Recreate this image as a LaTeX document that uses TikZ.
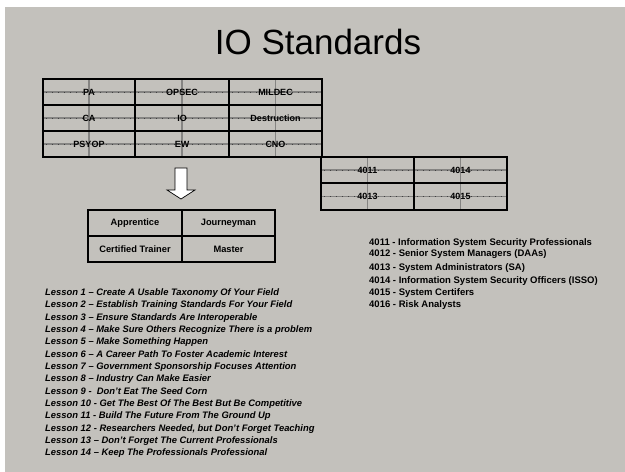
\documentclass[tikz,border=0pt]{standalone}
\usepackage{fontspec}
\setmainfont{Liberation Sans}
\definecolor{bg}{HTML}{C3C1BC}
\definecolor{gl}{HTML}{858482}
\tikzset{
  cell/.style={draw=black, line width=1.5pt, inner sep=0pt, font=\bfseries\fontsize{9}{10}\selectfont},
  cellb/.style={draw=black, line width=1.5pt, inner sep=0pt, font=\bfseries\fontsize{9.3}{10}\selectfont},
  lesson/.style={anchor=west, inner sep=0pt, font=\bfseries\itshape\fontsize{9.4}{10}\selectfont},
  code/.style={anchor=west, inner sep=0pt, font=\bfseries\fontsize{9.5}{10}\selectfont},
}
\newcommand{\gcell}[7]{% name, x1,y1,x2,y2, text, style
  \draw[gl, line width=1.1pt] (#2,{(#3+#5)/2}) -- (#4,{(#3+#5)/2});
  \draw[black!75, line width=1pt, dash pattern=on 1pt off 5pt] (#2+3,{(#3+#5)/2}) -- (#4,{(#3+#5)/2});
  \draw[gl, line width=1.1pt] ({(#2+#4)/2},#3) -- ({(#2+#4)/2},#5);
  \node[#7, minimum width={#4-#2}, minimum height={#5-#3}] (#1) at ({(#2+#4)/2},{(#3+#5)/2}) {#6};
}
\begin{document}
\begin{tikzpicture}[x=1pt,y=-1pt]
\useasboundingbox (0,0) rectangle (625,472);
\fill[white] (0,0) rectangle (625,472);
\fill[bg] (5,7) rectangle (625,472);
\node[font=\fontsize{35}{40}\selectfont, inner sep=0pt] (title) at (318,42) {IO Standards};
% table 1
\gcell{pa}{43}{79}{135}{105}{PA}{cell}
\gcell{opsec}{135}{79}{229}{105}{OPSEC}{cell}
\gcell{mildec}{229}{79}{322}{105}{MILDEC}{cell}
\gcell{ca}{43}{105}{135}{131}{CA}{cell}
\gcell{io}{135}{105}{229}{131}{IO}{cell}
\gcell{destr}{229}{105}{322}{131}{Destruction}{cell}
\gcell{psyop}{43}{131}{135}{157}{PSYOP}{cell}
\gcell{ew}{135}{131}{229}{157}{EW}{cell}
\gcell{cno}{229}{131}{322}{157}{CNO}{cell}
% table 2
\gcell{c4011}{321}{157}{414}{183}{4011}{cell}
\gcell{c4014}{414}{157}{507}{183}{4014}{cell}
\gcell{c4013}{321}{183}{414}{210}{4013}{cell}
\gcell{c4015}{414}{183}{507}{210}{4015}{cell}
% arrow
\draw[black, line width=0.7pt, fill=white] (175,168) -- (187,168) -- (187,190) -- (195,190) -- (181,199) -- (167,190) -- (175,190) -- cycle;
\coordinate (arrowtip) at (181,199);
% table 3
\node[cellb, minimum width=94, minimum height=26] (appr) at (135,223) {Apprentice};
\node[cellb, minimum width=93, minimum height=26] (journ) at (228.5,223) {Journeyman};
\node[cellb, minimum width=94, minimum height=26] (cert) at (135,249) {Certified Trainer};
\node[cellb, minimum width=93, minimum height=26] (master) at (228.5,249) {Master};
% codes
\node[code] (k1) at (369,243) {4011 - Information System Security Professionals};
\node[code] (k2) at (369,254) {4012 - Senior System Managers (DAAs)};
\node[code] (k3) at (369,268.5) {4013 - System Administrators (SA)};
\node[code] (k4) at (369,281) {4014 - Information System Security Officers (ISSO)};
\node[code] (k5) at (369,293) {4015 - System Certifers};
\node[code] (k6) at (369,305.5) {4016 - Risk Analysts};
% lessons
\node[lesson] (l1) at (45,293) {Lesson 1 – Create A Usable Taxonomy Of Your Field};
\node[lesson] (l2) at (45,305.3) {Lesson 2 – Establish Training Standards For Your Field};
\node[lesson] (l3) at (45,317.6) {Lesson 3 – Ensure Standards Are Interoperable};
\node[lesson] (l4) at (45,330) {Lesson 4 – Make Sure Others Recognize There is a problem};
\node[lesson] (l5) at (45,342.3) {Lesson 5 – Make Something Happen};
\node[lesson] (l6) at (45,354.6) {Lesson 6 – A Career Path To Foster Academic Interest};
\node[lesson] (l7) at (45,367) {Lesson 7 – Government Sponsorship Focuses Attention};
\node[lesson] (l8) at (45,379.3) {Lesson 8 – Industry Can Make Easier};
\node[lesson] (l9) at (45,391.6) {Lesson 9 -\ \ Don't Eat The Seed Corn};
\node[lesson] (l10) at (45,404) {Lesson 10 - Get The Best Of The Best But Be Competitive};
\node[lesson] (l11) at (45,416.3) {Lesson 11 - Build The Future From The Ground Up};
\node[lesson] (l12) at (45,428.6) {Lesson 12 - Researchers Needed, but Don't Forget Teaching};
\node[lesson] (l13) at (45,441) {Lesson 13 – Don't Forget The Current Professionals};
\node[lesson] (l14) at (45,453.3) {Lesson 14 – Keep The Professionals Professional};
\end{tikzpicture}
\end{document}
